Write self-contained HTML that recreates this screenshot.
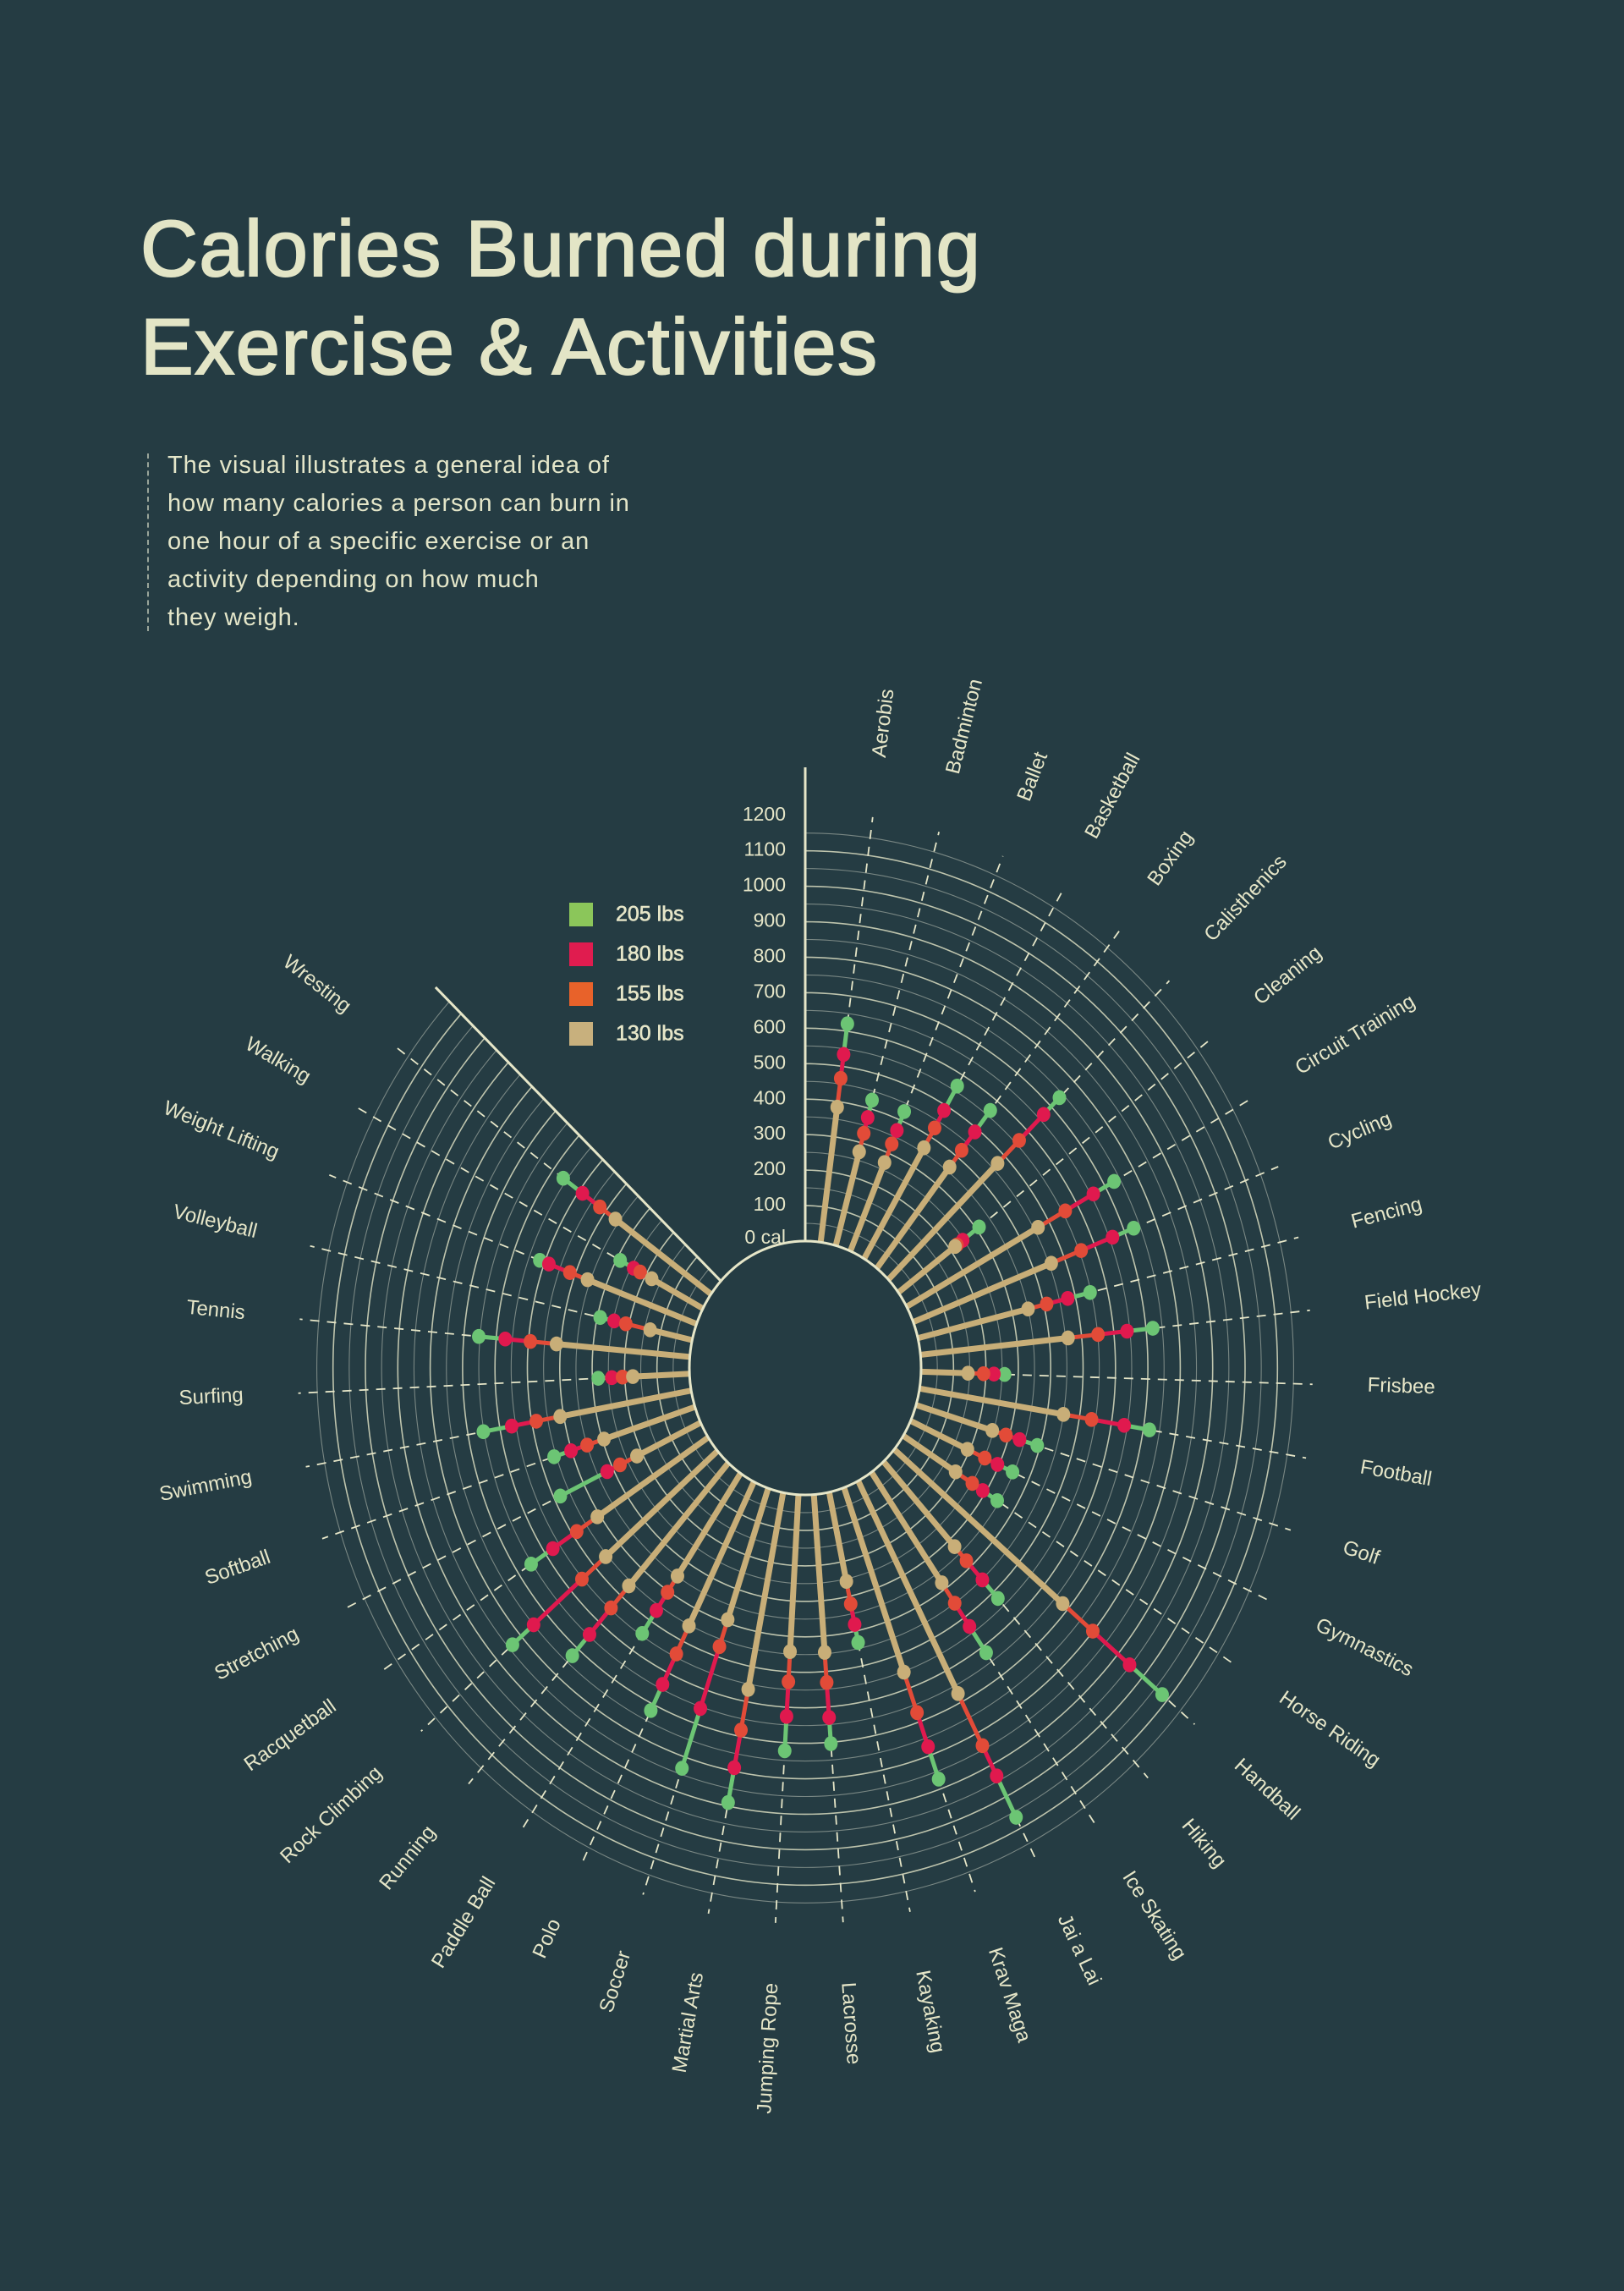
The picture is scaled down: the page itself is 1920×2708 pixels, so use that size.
<!DOCTYPE html>
<html><head><meta charset="utf-8">
<style>
html,body{margin:0;padding:0;background:#253c43;}
#page{position:relative;width:1920px;height:2708px;background:#253c43;overflow:hidden;font-family:"Liberation Sans",sans-serif;color:#e4e6c9;}
#title{position:absolute;left:166px;top:236px;font-size:94px;line-height:116px;margin:0;font-weight:normal;letter-spacing:1.5px;color:#e3e5c6;-webkit-text-stroke:2px #e3e5c6;}
#desc{position:absolute;left:198px;top:528px;font-size:29px;line-height:45px;letter-spacing:0.9px;color:#e4e6c9;margin:0;}
#desc-rule{position:absolute;left:174px;top:536px;height:210px;border-left:2px dashed #9aa59a;}
svg{position:absolute;left:0;top:0;}
</style></head>
<body>
<div id="page">
<h1 id="title">Calories Burned during<br>Exercise &amp; Activities</h1>
<div id="desc-rule"></div>
<p id="desc">The visual illustrates a general idea of<br>how many calories a person can burn in<br>one hour of a specific exercise or an<br>activity depending on how much<br>they weigh.</p>
<svg id="chart" width="1920" height="2708"></svg>
</div>
<script>
const categories = ["Aerobis","Badminton","Ballet","Basketball","Boxing","Calisthenics","Cleaning","Circuit Training","Cycling","Fencing","Field Hockey","Frisbee","Football","Golf","Gymnastics","Horse Riding","Handball","Hiking","Ice Skating","Jai a Lai","Krav Maga","Kayaking","Lacrosse","Jumping Rope","Martial Arts","Soccer","Polo","Paddle Ball","Running","Rock Climbing","Racquetball","Stretching","Softball","Swimming","Surfing","Tennis","Volleyball","Weight Lifting","Walking","Wresting"];
const w130 = [384,274,271,363,363,470,218,463,457,350,458,145,450,246,193,191,678,325,380,674,552,257,446,443,565,391,453,349,463,456,409,218,295,411,175,413,133,359,179,363];
const w155 = [466,328,328,428,423,563,225,559,556,409,551,193,538,290,252,252,799,379,450,839,673,322,531,528,682,471,541,404,546,553,485,276,350,486,207,494,210,417,219,422];
const w180 = [534,374,369,485,489,668,247,658,660,476,641,225,640,334,295,290,947,452,530,935,775,381,630,626,790,655,637,466,646,750,573,320,402,563,240,572,247,486,242,488];
const w205 = [621,425,427,565,566,736,310,731,730,547,721,258,719,391,346,343,1078,523,620,1066,872,433,704,723,890,833,719,544,726,836,653,480,457,652,282,654,291,516,289,561];
const tickValues = [0,100,200,300,400,500,600,700,800,900,1000,1100,1200];
const tickLabels = ["0 cal","100","200","300","400","500","600","700","800","900","1000","1100","1200"];
const legendLabels = ["205 lbs","180 lbs","155 lbs","130 lbs"];

const NS="http://www.w3.org/2000/svg";
const svg=document.getElementById('chart');
const CX=952, CY=1617, SY=1.095, R0=137, K=0.383, STEP=7.64;
const C={tan:"#c8ae78",orange:"#e24b38",red:"#e0194e",green:"#6cc574",cream:"#e6e6c8"};
function rad(v){return R0+v*K;}
function ang(i){return (i+1)*STEP;}
function P(r,a){const t=a*Math.PI/180;return [CX+r*Math.sin(t),CY-r*Math.cos(t)*SY];}
function mk(tag,attrs,parent){const e=document.createElementNS(NS,tag);for(const k in attrs)e.setAttribute(k,attrs[k]);(parent||svg).appendChild(e);return e;}
const END=41*STEP;

const grid=mk('g',{});


for(let v=50;v<=1150;v+=50){
  let pts=[];for(let a=0;a<=END;a+=1){pts.push(P(rad(v),a).join(','));}
  pts.push(P(rad(v),END).join(','));
  const pl=mk('polyline',{points:pts.join(' '),fill:'none',stroke:v%100===0?'#d9dcc0':'#8f9a93','stroke-width':v%100===0?1.6:1.1,opacity:v%100===0?0.85:0.8},grid);
  
  
}
categories.forEach((c,i)=>{
  const a=P(R0,ang(i)),b=P(600,ang(i));
  const l=mk('line',{x1:a[0],y1:a[1],x2:b[0],y2:b[1],stroke:'#e6e6c8','stroke-width':1.8,'stroke-dasharray':'11 9'});
  
  
});
const ax=mk('line',{x1:CX,y1:CY-R0*SY,x2:CX,y2:907,stroke:C.cream,'stroke-width':3});


const e1=P(R0,END),e2=P(600,END);
const bl=mk('line',{x1:e1[0],y1:e1[1],x2:e2[0],y2:e2[1],stroke:C.cream,'stroke-width':3});


tickValues.forEach((v,i)=>{
  const t=mk('text',{x:929,y:CY-rad(v)*SY+(v===0?-3:0),'text-anchor':'end','dominant-baseline':'middle','font-size':23,fill:C.cream,'font-family':'Liberation Sans, sans-serif'});
  t.textContent=tickLabels[i];
  
  
});
const series=[[w130,C.tan],[w155,C.orange],[w180,C.red],[w205,C.green]];
categories.forEach((c,i)=>{
  const a=ang(i);
  const g=mk('g',{});
  
  
  const s=P(R0-4,a),t=P(rad(w130[i]),a);
  mk('line',{x1:s[0],y1:s[1],x2:t[0],y2:t[1],stroke:C.tan,'stroke-width':7},g);
  for(let k=1;k<4;k++){
    const p=P(rad(series[k-1][0][i]),a),q=P(rad(series[k][0][i]),a);
    mk('line',{x1:p[0],y1:p[1],x2:q[0],y2:q[1],stroke:series[k][1],'stroke-width':5},g);
  }
  for(let k=3;k>=0;k--){
    const p=P(rad(series[k][0][i]),a);
    const d=mk('ellipse',{cx:p[0],cy:p[1],rx:8,ry:8.8,fill:series[k][1]},g);
    
    
  }
  const lp=P(665,a);
  const dir=Math.atan2(-Math.cos(a*Math.PI/180)*SY,Math.sin(a*Math.PI/180))*180/Math.PI;
  const right=a<180;
  const lab=mk('text',{x:lp[0],y:lp[1],'text-anchor':right?'start':'end','dominant-baseline':'middle','font-size':24,fill:C.cream,'font-family':'Liberation Sans, sans-serif',transform:`rotate(${right?dir:dir+180} ${lp[0]} ${lp[1]})`});
  lab.textContent=c;
  
  
});
const ic=mk('ellipse',{cx:CX,cy:CY,rx:R0,ry:R0*SY,fill:'#253c43',stroke:C.cream,'stroke-width':3});


const lcol=["#8bc65a","#e01c4f","#e8622a","#c8b07d"];
legendLabels.forEach((l,i)=>{
  const y=1067+i*47;
  const g=mk('g',{});
  
  
  mk('rect',{x:673,y:y,width:28,height:28,fill:lcol[i]},g);
  const t=mk('text',{x:728,y:y+15,'dominant-baseline':'middle','font-size':25,fill:C.cream,stroke:C.cream,'stroke-width':0.6,'font-family':'Liberation Sans, sans-serif'},g);
  t.textContent=l;
});
</script>
</body></html>
